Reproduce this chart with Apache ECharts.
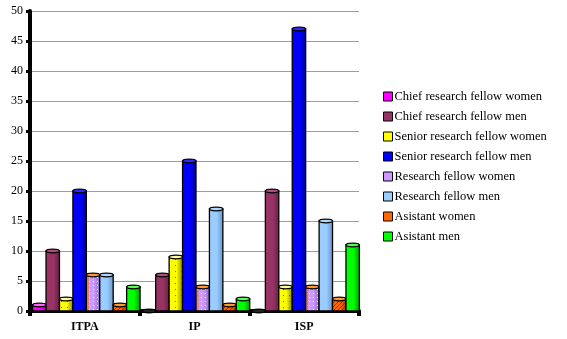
<!DOCTYPE html>
<html>
<head>
<meta charset="utf-8">
<script src="https://cdn.jsdelivr.net/npm/echarts@6/dist/echarts.min.js"></script>
<style>
  html, body { margin: 0; padding: 0; background: #fff; }
  #chart { width: 567px; height: 339px; }
</style>
</head>
<body>
<div id="chart"></div>
<script>
// Staff counts per institute, one array per staff group
const categories = ['ITPA', 'IP', 'ISP'];
const seriesNames = [
  'Chief research fellow women',
  'Chief research fellow men',
  'Senior research fellow women',
  'Senior research fellow men',
  'Research fellow women',
  'Research fellow men',
  'Asistant women',
  'Asistant men'
];
const chiefWomen    = [1, 0, 0];
const chiefMen      = [10, 6, 20];
const seniorWomen   = [2, 9, 4];
const seniorMen     = [20, 25, 47];
const researchWomen = [6, 4, 4];
const researchMen   = [6, 17, 15];
const asistantWomen = [1, 1, 2];
const asistantMen   = [4, 2, 11];
const seriesValues = [chiefWomen, chiefMen, seniorWomen, seniorMen,
                      researchWomen, researchMen, asistantWomen, asistantMen];

// small tiled textures for the patterned bars
function dots(step, color, size) {
  const c = document.createElement('canvas');
  c.width = c.height = step;
  const g = c.getContext('2d');
  g.fillStyle = color;
  g.fillRect(1, 1, size, size);
  return c;
}
function hatch() {
  const c = document.createElement('canvas');
  c.width = c.height = 4;
  const g = c.getContext('2d');
  g.fillStyle = 'rgba(120,40,0,0.75)';
  for (let i = 0; i < 4; i++) g.fillRect(3 - i, i, 1, 1);
  return c;
}

const looks = [
  { base: '#ff00ff', dark: '#a000a0', cap: '#ff66ff' },
  { base: '#993366', dark: '#662244', cap: '#b04c7e' },
  { base: '#ffff00', dark: '#8a8a00', cap: '#ffff99', pattern: dots(6, '#ff3300', 1) },
  { base: '#0000ff', dark: '#000090', cap: '#2a2aff' },
  { base: '#cc99ff', dark: '#9070c0', cap: '#ff9933', pattern: dots(4, '#ffffff', 1), edge: '#ff6600' },
  { base: '#99ccff', dark: '#6a96c8', cap: '#b0d8ff' },
  { base: '#ff6600', dark: '#b04000', cap: '#ff9933', pattern: hatch() },
  { base: '#00ff00', dark: '#00a000', cap: '#55ff55' }
];

function renderItem(params, api) {
  const si = params.seriesIndex;
  const ci = api.value(0);
  const v = api.value(1);
  const base = api.coord([ci, 0]);
  const top = api.coord([ci, v]);
  const band = api.size([1, 0])[0];
  const bw = band * 0.1225;
  const x0 = base[0] - bw * 4 + 1.5 + si * bw;
  const lk = looks[si];
  const h = base[1] - top[1];
  const kids = [];
  if (h > 0) {
    kids.push({
      type: 'rect',
      shape: { x: x0, y: top[1], width: bw, height: h },
      style: {
        fill: new echarts.graphic.LinearGradient(0, 0, 1, 0, [
          { offset: 0, color: lk.base },
          { offset: 0.55, color: lk.base },
          { offset: 1, color: lk.dark }
        ]),
        stroke: null
      }
    });
    if (lk.pattern) {
      kids.push({
        type: 'rect',
        shape: { x: x0, y: top[1], width: bw, height: h },
        style: { fill: { image: lk.pattern, repeat: 'repeat' }, stroke: null }
      });
    }
    if (lk.edge) {
      kids.push({
        type: 'rect',
        shape: { x: x0 + 0.5, y: top[1], width: 2, height: h },
        style: { fill: lk.edge, opacity: 0.7 }
      });
    }
    kids.push({
      type: 'rect',
      shape: { x: x0, y: top[1], width: bw, height: h },
      style: { fill: null, stroke: '#000', lineWidth: 1.3 }
    });
  }
  kids.push({
    type: 'ellipse',
    shape: { cx: x0 + bw / 2, cy: top[1], rx: bw / 2, ry: 1.8 },
    style: { fill: h > 0 ? lk.cap : '#222', stroke: '#000', lineWidth: 1.3 }
  });
  return { type: 'group', children: kids };
}

const chart = echarts.init(document.getElementById('chart'));
chart.setOption({
  animation: false,
  backgroundColor: '#fff',
  grid: { left: 30, right: 208, top: 11, bottom: 28 },
  legend: {
    orient: 'vertical',
    left: 378,
    top: 85,
    itemWidth: 9,
    itemHeight: 9,
    itemGap: 7,
    itemStyle: { borderColor: '#000', borderWidth: 1 },
    icon: 'rect',
    textStyle: { fontFamily: 'Liberation Serif', fontSize: 12.5, color: '#000', padding: [0, 0, 0, -3] },
    data: seriesNames
  },
  xAxis: {
    type: 'category',
    data: categories,
    boundaryGap: true,
    axisLine: { lineStyle: { color: '#000', width: 4 } },
    axisTick: { show: true, length: 5, lineStyle: { color: '#000', width: 4 } },
    axisLabel: { margin: 10, color: '#000', fontFamily: 'Liberation Serif', fontSize: 12, fontWeight: 'bold' },
    splitLine: { show: false }
  },
  yAxis: {
    type: 'value',
    min: 0,
    max: 50,
    interval: 5,
    axisLine: { show: true, lineStyle: { color: '#000', width: 4 } },
    axisTick: { show: true, length: 4, lineStyle: { color: '#000', width: 3 } },
    axisLabel: { margin: 7, color: '#000', fontFamily: 'Liberation Serif', fontSize: 12 },
    splitLine: { lineStyle: { color: '#b27fff', width: 1.2 } }
  },
  series: seriesNames.map((name, i) => ({
    name,
    type: 'custom',
    renderItem,
    itemStyle: { color: looks[i].base, borderColor: '#000', borderWidth: 1 },
    encode: { x: 0, y: 1 },
    data: seriesValues[i].map((v, ci) => [ci, v]),
    z: 3
  }))
});
</script>
</body>
</html>
